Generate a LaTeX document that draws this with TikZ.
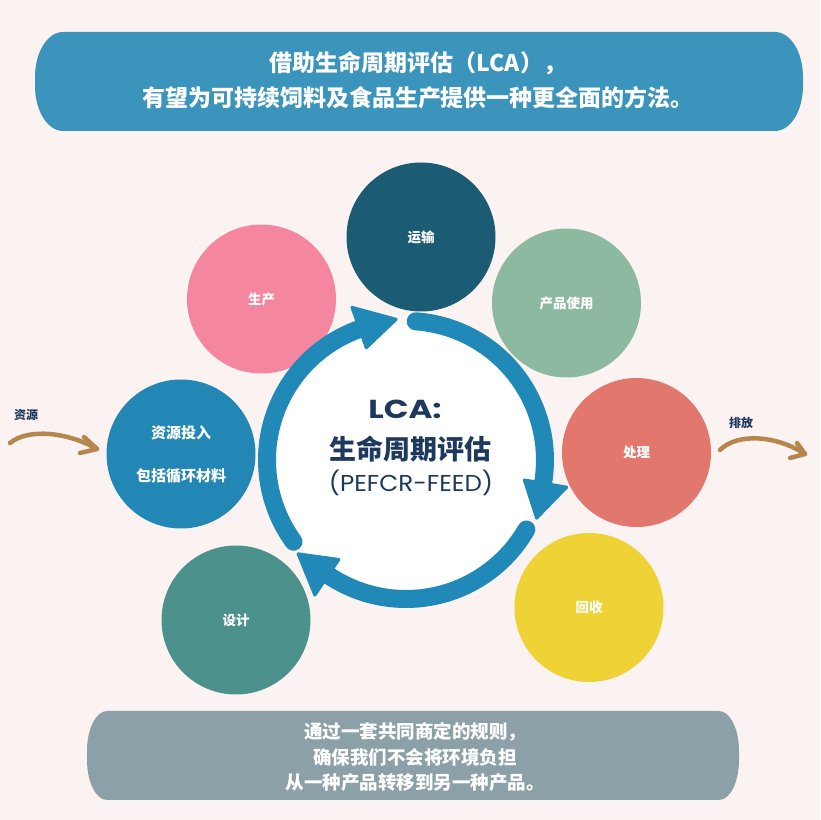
\documentclass[tikz,border=0pt]{standalone}
\usepackage{fontspec}
\newfontfamily\cjk{Noto Sans CJK SC}
\newfontfamily\pop{Poppins}
\definecolor{bg}{HTML}{FBF3F1}
\definecolor{topbar}{HTML}{3A94BC}
\definecolor{botbar}{HTML}{8BA1A7}
\definecolor{ctrans}{HTML}{1B5B73}
\definecolor{cprod}{HTML}{F4879F}
\definecolor{cuse}{HTML}{8DB9A0}
\definecolor{cproc}{HTML}{E2786D}
\definecolor{crecyc}{HTML}{EFD235}
\definecolor{cdesign}{HTML}{4C918B}
\definecolor{cres}{HTML}{2287B5}
\definecolor{cring}{HTML}{2189B8}
\definecolor{navy}{HTML}{1D3A5E}
\definecolor{brownarrow}{HTML}{B6874C}
\begin{document}
\begin{tikzpicture}[x=1pt,y=1pt,
  stage/.style={circle,minimum size=149pt,inner sep=0pt,text=white,
    font=\cjk\bfseries\fontsize{13.5}{16}\selectfont},
  ringline/.style={draw=cring,line width=18pt,line cap=round},
  ringhead/.style={fill=cring,draw=cring,line width=3pt,line join=round},
  sidearrow/.style={draw=brownarrow,line width=4.5pt,line cap=round,line join=round},
  sidelabel/.style={text=navy,font=\cjk\bfseries\fontsize{12}{14}\selectfont},
  bannertext/.style={text=white,align=center}]
\useasboundingbox (0,0) rectangle (820,820);
\fill[bg] (0,0) rectangle (820,820);

% top banner
\fill[topbar] (63,689) -- (775,689) arc[start angle=-90,end angle=0,x radius=28,y radius=45]
  -- (803,743) arc[start angle=0,end angle=90,x radius=28,y radius=45]
  -- (63,788) arc[start angle=90,end angle=180,x radius=28,y radius=45]
  -- (35,734) arc[start angle=180,end angle=270,x radius=28,y radius=45] -- cycle;
\node[bannertext,font=\cjk\bfseries\fontsize{23}{35}\selectfont] (title) at (418,740)
  {借助生命周期评估（LCA），\\有望为可持续饲料及食品生产提供一种更全面的方法。};

% bottom banner
\fill[botbar] (107,20) -- (719,20) arc[start angle=-90,end angle=0,x radius=20,y radius=40]
  -- (739,69) arc[start angle=0,end angle=90,x radius=20,y radius=40]
  -- (107,109) arc[start angle=90,end angle=180,x radius=20,y radius=40]
  -- (87,60) arc[start angle=180,end angle=270,x radius=20,y radius=40] -- cycle;
\node[bannertext,font=\cjk\bfseries\fontsize{18.5}{25.5}\selectfont] (note) at (415,63)
  {通过一套共同商定的规则，\\ 确保我们不会将环境负担\\从一种产品转移到另一种产品。};

% stage circles
\node[stage,fill=ctrans] (trans) at (421,583) {运输};
\node[stage,fill=cprod] (prod) at (261.5,521) {生产};
\node[stage,fill=cuse] (use) at (566.5,517) {产品使用};
\node[stage,fill=cproc] (proc) at (636.5,367.5) {处理};
\node[stage,fill=crecyc] (recyc) at (589,212.5) {回收};
\node[stage,fill=cdesign] (design) at (236,200) {设计};
\node[stage,fill=cres,align=center,font=\cjk\bfseries\fontsize{15}{43}\selectfont] (res) at (181,366)
  {资源投入\\包括循环材料};

% hub
\coordinate (C) at (406,360);
\node[circle,fill=white,minimum size=272pt,inner sep=0pt] (hub) at (C) {};

% ring segments
\draw[ringline] ([shift={(216:139)}]C) arc[start angle=216,end angle=109.5,radius=139];
\draw[ringhead] ([shift={(109.5:162)}]C) -- ([shift={(94:141)}]C) -- ([shift={(109.5:119)}]C) -- cycle;
\draw[ringline] ([shift={(86:139)}]C) arc[start angle=86,end angle=-9.6,radius=139];
\draw[ringhead] ([shift={(-9.6:163)}]C) -- ([shift={(-24:143)}]C) -- ([shift={(-9.6:120)}]C) -- cycle;
\draw[ringline] ([shift={(-30:139)}]C) arc[start angle=-30,end angle=-124,radius=139];
\draw[ringhead] ([shift={(-124:163)}]C) -- ([shift={(-139:143)}]C) -- ([shift={(-124:120)}]C) -- cycle;

% hub text
\node[text=navy,font=\pop\bfseries\fontsize{26}{30}\selectfont] (lca) at (405,411) {\scalebox{1.25}[1]{LCA:}};
\node[text=navy,font=\cjk\bfseries\fontsize{27}{30}\selectfont] (lcacn) at (410,371) {生命周期评估};
\node[text=navy,font=\pop\fontsize{23}{26}\selectfont] (pef) at (411,337) {\scalebox{1.07}[1]{(PEFCR-FEED)}};

% side arrows
\coordinate (inS) at (10,377);
\coordinate (inT) at (97,371);
\draw[sidearrow] (inS) .. controls (28,392) and (68,388) .. (inT);
\draw[sidearrow] (84,383) -- (inT) -- (80,367);
\node[sidelabel] (inL) at (26,405) {资源};

\coordinate (outS) at (720,370);
\coordinate (outT) at (805,366);
\draw[sidearrow] (outS) .. controls (738,388) and (778,384) .. (outT);
\draw[sidearrow] (797,377) -- (outT) -- (790,362);
\node[sidelabel] (outL) at (741,397) {排放};
\end{tikzpicture}
\end{document}
